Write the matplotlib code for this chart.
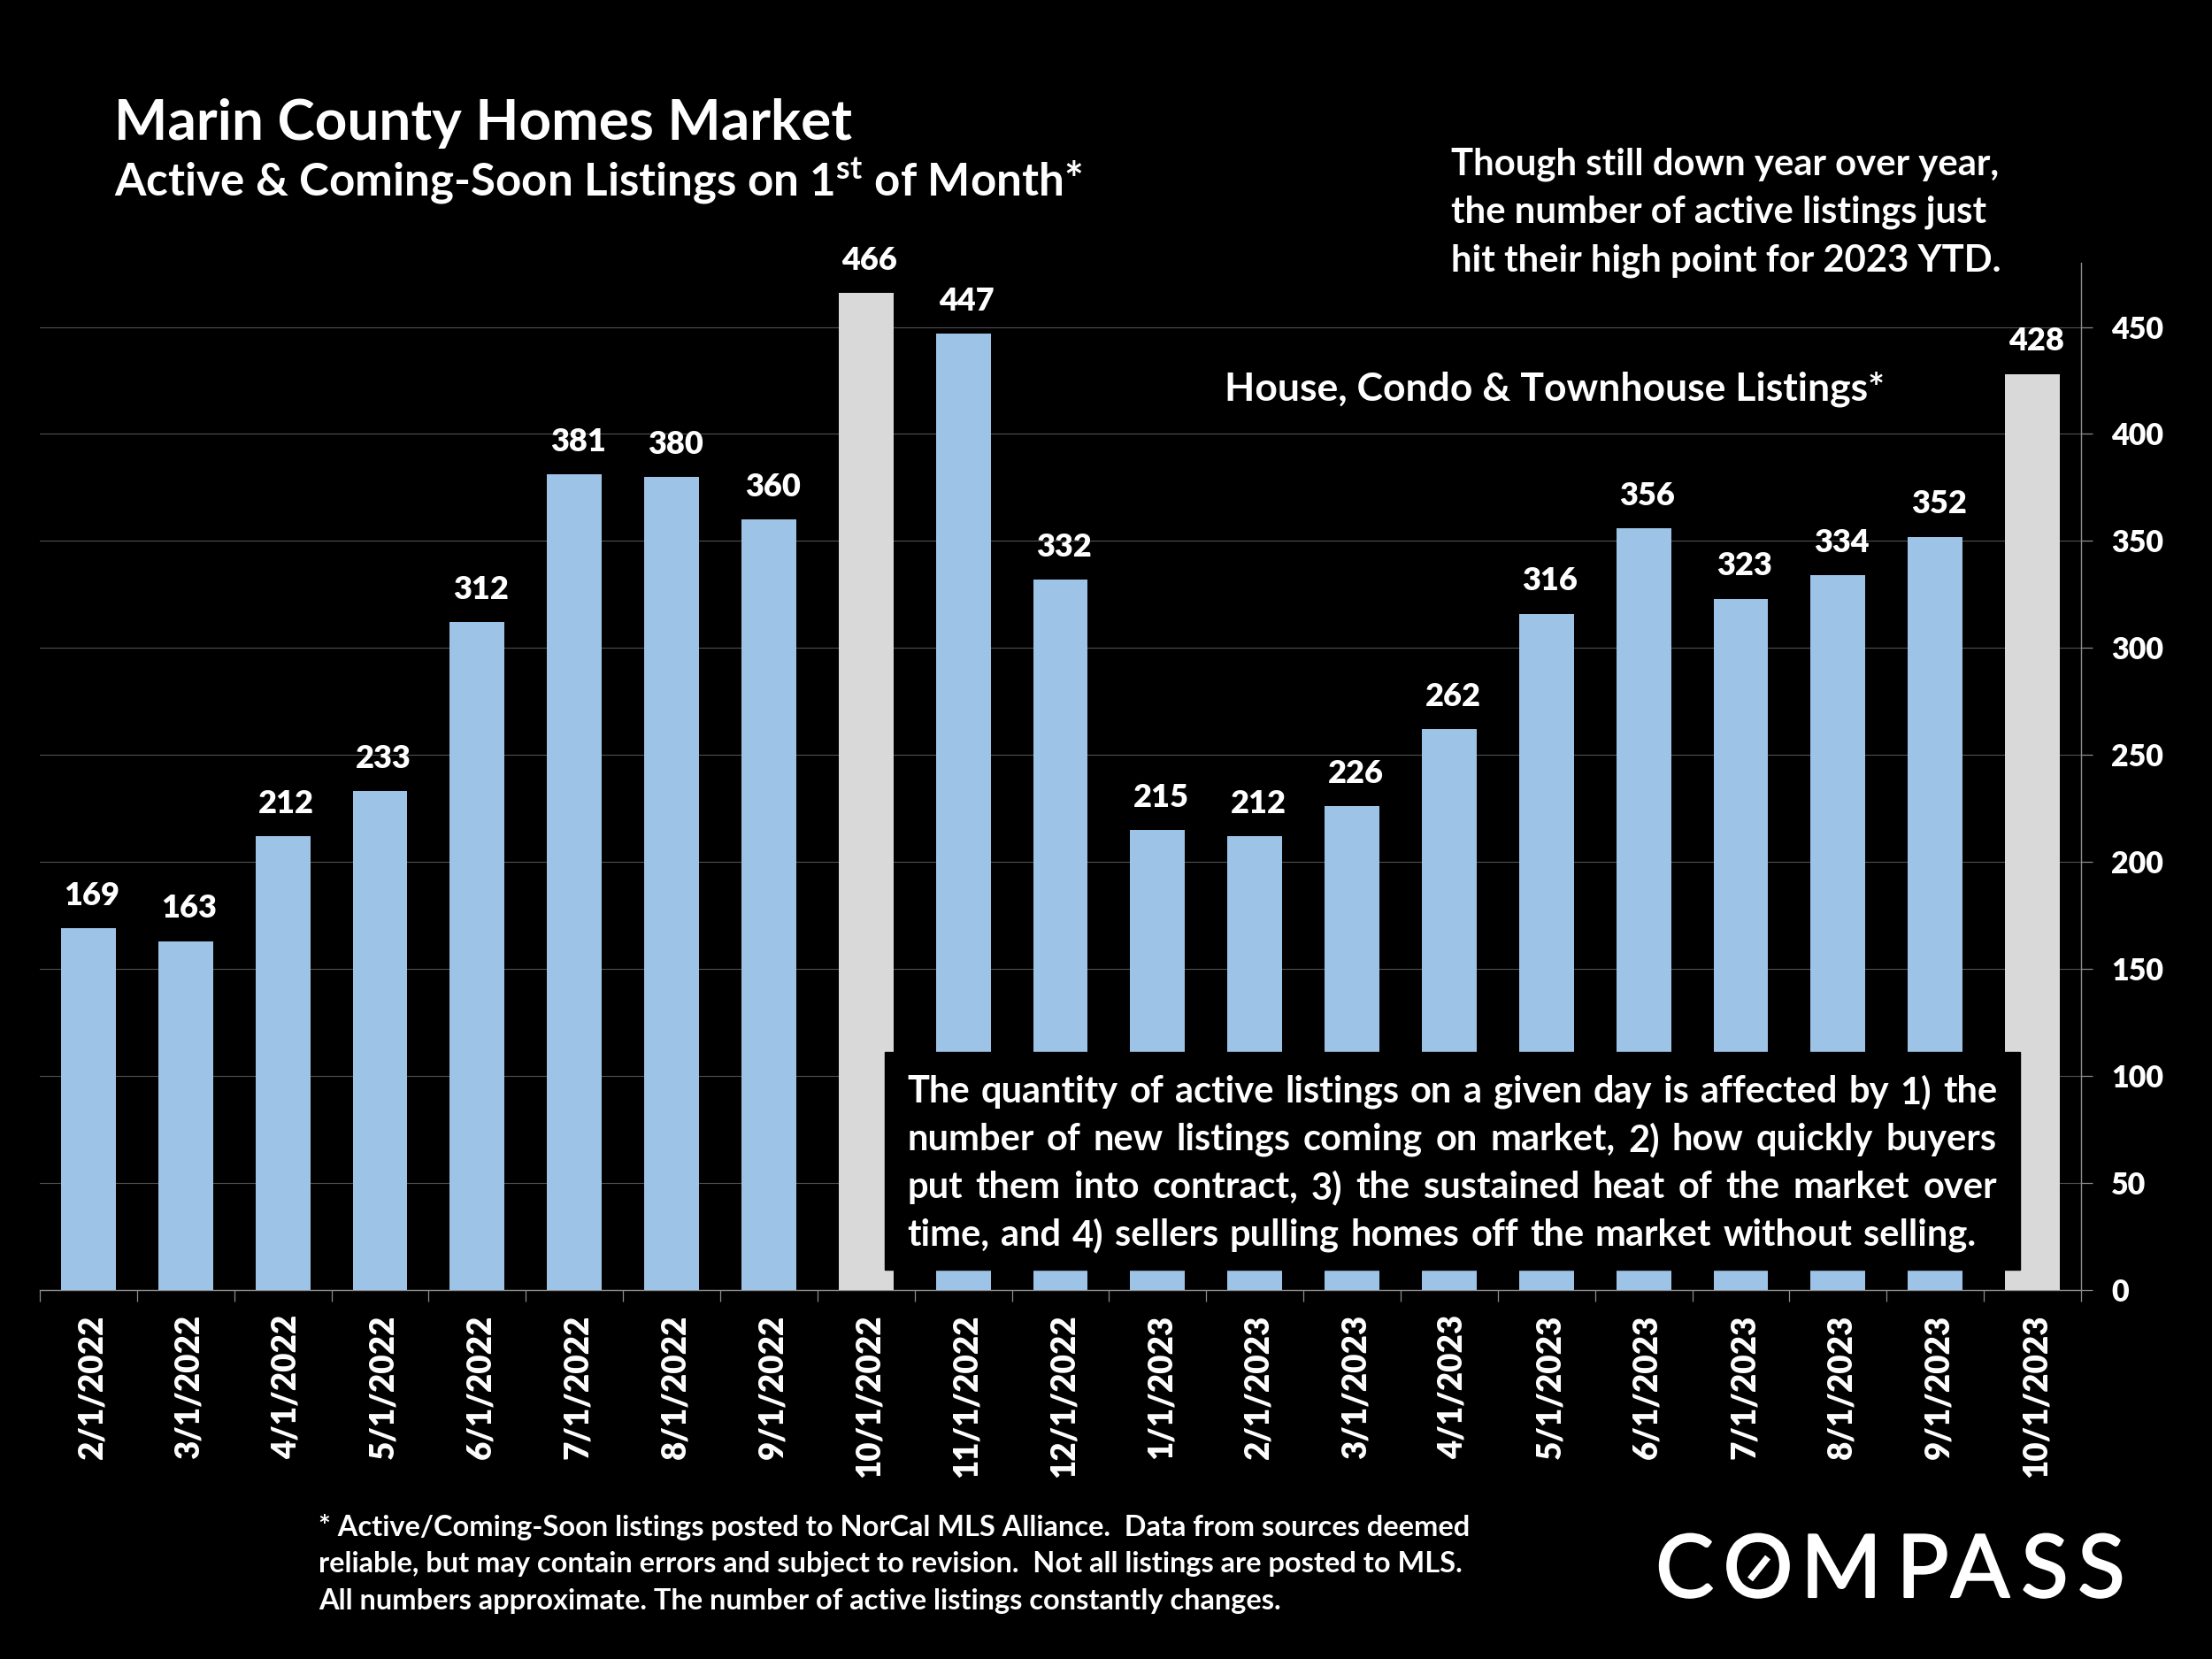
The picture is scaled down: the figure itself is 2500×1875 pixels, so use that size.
import matplotlib as mpl
mpl.use('Agg')
import matplotlib.pyplot as plt
import matplotlib.patheffects as pe
from matplotlib.patches import Rectangle
from matplotlib.transforms import ScaledTranslation

plt.rcParams['font.family'] = ['Lato', 'DejaVu Sans']
plt.rcParams['font.weight'] = 'bold'
plt.rcParams['mathtext.fontset'] = 'custom'
plt.rcParams['mathtext.bf'] = 'Lato:bold'
plt.rcParams['mathtext.rm'] = 'Lato:bold'
plt.rcParams['mathtext.default'] = 'regular'

dates = ['2/1/2022', '3/1/2022', '4/1/2022', '5/1/2022', '6/1/2022', '7/1/2022', '8/1/2022',
         '9/1/2022', '10/1/2022', '11/1/2022', '12/1/2022', '1/1/2023', '2/1/2023', '3/1/2023',
         '4/1/2023', '5/1/2023', '6/1/2023', '7/1/2023', '8/1/2023', '9/1/2023', '10/1/2023']
listings = [169, 163, 212, 233, 312, 381, 380, 360, 466, 447, 332, 215, 212, 226,
            262, 316, 356, 323, 334, 352, 428]
highlighted = ['10/1/2022', '10/1/2023']
y_ticks = [0, 50, 100, 150, 200, 250, 300, 350, 400, 450]

box_lines = ['The quantity of active listings on a given day is affected by 1) the',
             'number of new listings coming on market, 2) how quickly buyers',
             'put them into contract, 3) the sustained heat of the market over',
             'time, and 4) sellers pulling homes off the market without selling.']
note_lines = ['Though still down year over year,',
              'the number of active listings just',
              'hit their high point for 2023 YTD.']
foot_lines = ['* Active/Coming-Soon listings posted to NorCal MLS Alliance.  Data from sources deemed',
              'reliable, but may contain errors and subject to revision.  Not all listings are posted to MLS.',
              'All numbers approximate. The number of active listings constantly changes.']

W, H = 2500, 1875
fig = plt.figure(figsize=(W / 100, H / 100), dpi=100, facecolor='black')

# chart axes, placed to line up with the slide
left, right, top, bottom = 45, 2352, 297, 1458
ax = fig.add_axes([left / W, 1 - bottom / H, (right - left) / W, (bottom - top) / H], facecolor='black')
centers = [i + 0.5 for i in range(len(dates))]
colors = ['#D9D9D9' if d in highlighted else '#9DC3E6' for d in dates]
ax.bar(centers, listings, width=62 / 110, color=colors, zorder=3)
ax.set_xlim(0, len(dates))
ax.set_ylim(0, 480)
for x, v in zip(centers, listings):
    ax.annotate(str(v), (x, v), xytext=(3, 26.5), textcoords='offset points', ha='center', va='center',
                color='white', fontsize=26, fontweight=800, zorder=4)

ax.yaxis.tick_right()
ax.set_yticks(y_ticks)
ax.grid(axis='y', color='#505050', lw=0.8, zorder=1)
ax.set_axisbelow(True)
ax.tick_params(axis='y', length=9.4, width=0.9, color='#8c8c8c', labelcolor='white', labelsize=24.5, pad=15)
ax.set_xticks(range(len(dates) + 1))
ax.set_xticklabels([])
ax.set_xticks(centers, minor=True)
ax.set_xticklabels(dates, minor=True, rotation=90)
ax.tick_params(axis='x', which='major', length=9.4, width=0.9, color='#8c8c8c')
ax.tick_params(axis='x', which='minor', length=0, labelcolor='white', labelsize=26.5, pad=20)
shift = ScaledTranslation(3 / 72, 0, fig.dpi_scale_trans)
for lbl in ax.get_xticklabels(minor=True):
    lbl.set_transform(lbl.get_transform() + shift)
    lbl.set_fontweight(800)
for lbl in ax.get_yticklabels():
    lbl.set_fontweight(800)
for s in ['left', 'top']:
    ax.spines[s].set_visible(False)
for s in ['right', 'bottom']:
    ax.spines[s].set_color('#8c8c8c')
    ax.spines[s].set_linewidth(1.0)

# overlay in pixel coordinates for the slide text
ov = fig.add_axes([0, 0, 1, 1], facecolor='none')
ov.set_xlim(0, W)
ov.set_ylim(H, 0)
ov.axis('off')

ov.text(129, 140, 'Marin County Homes Market', color='white', fontsize=46, va='center')
ov.text(129, 205, r'Active & Coming-Soon Listings on 1$^{\mathbf{st}}$ of Month*', color='white', fontsize=36.8, va='center')
for y, line in zip([186, 240, 295], note_lines):
    ov.text(1640, y, line, color='white', fontsize=30.2, va='center')
ov.text(1384, 440, 'House, Condo & Townhouse Listings*', color='white', fontsize=32, va='center')

ov.add_patch(Rectangle((1000, 1189), 1283, 246, color='black', zorder=5))
renderer = fig.canvas.get_renderer()


def justified(line, y, x0, x1, size):
    # place word by word so the line fills x0..x1
    words = line.split(' ')
    items = [ov.text(x0, y, w, color='white', fontsize=size, va='center', zorder=6) for w in words]
    widths = [t.get_window_extent(renderer).width for t in items]
    space = (x1 - x0 - sum(widths)) / (len(words) - 1)
    x = x0
    for t, w in zip(items, widths):
        t.set_x(x)
        x += w + space


for y, x1, line in zip([1234, 1288, 1342, 1396], [2257, 2257, 2257, 2233], box_lines):
    justified(line, y, 1025, x1, 30)

for y, line in zip([1726, 1768, 1809], foot_lines):
    ov.text(360, y, line, color='white', fontsize=23.4, va='center')

# logo
logo_letters = 'COMPASS'
logo_x = [1904, 1987, 2081, 2173, 2238, 2311, 2375]
for ch, x in zip(logo_letters, logo_x):
    ov.text(x, 1805, ch, color='white', fontsize=71, fontweight='normal', ha='center', va='baseline',
            path_effects=[pe.withStroke(linewidth=1.5, foreground='white')])
ov.plot([1978, 1998], [1785, 1760], color='white', lw=5.5, solid_capstyle='butt')

fig.savefig('out.png', dpi=100, facecolor='black')
